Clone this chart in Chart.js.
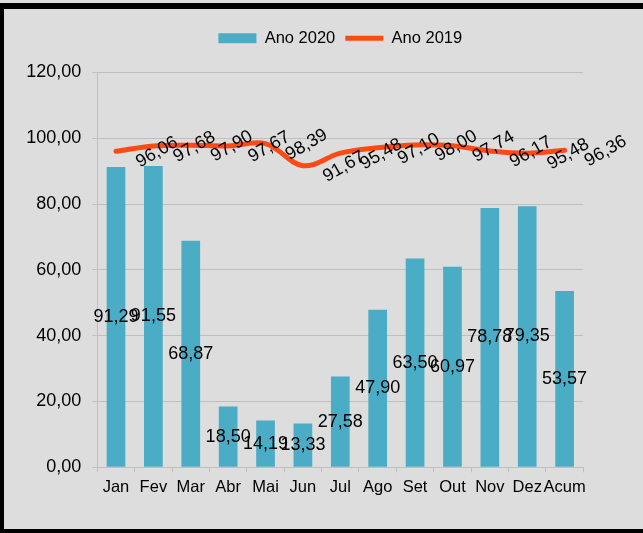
<!DOCTYPE html>
<html><head><meta charset="utf-8">
<script src="https://cdn.jsdelivr.net/npm/chart.js@4.4.1/dist/chart.umd.min.js"></script>
<style>
html,body{margin:0;padding:0;background:#dddddd;width:643px;height:533px;overflow:hidden;}
#frame{position:absolute;left:0;top:3px;width:700px;height:520px;border-top:6px solid #000;border-left:4px solid #000;border-bottom:4px solid #000;}
#c{position:absolute;left:0;top:0;}
</style></head><body>
<div id="frame"></div>
<canvas id="c" width="643" height="533"></canvas>
<script>
const categories = ['Jan','Fev','Mar','Abr','Mai','Jun','Jul','Ago','Set','Out','Nov','Dez','Acum'];
const ano2020 = [91.29, 91.55, 68.87, 18.50, 14.19, 13.33, 27.58, 47.90, 63.50, 60.97, 78.78, 79.35, 53.57];
const ano2019 = [96.06, 97.68, 97.90, 97.67, 98.39, 91.67, 95.48, 97.10, 98.00, 97.74, 96.17, 95.48, 96.36];
const yTicks = [0, 20, 40, 60, 80, 100, 120];

const FONT = '"Liberation Sans", Arial, sans-serif';
const fmt = v => v.toFixed(2).replace('.', ',');

const legendSpacer = {
  id: 'legendSpacer',
  beforeInit(chart) {
    const origFit = chart.legend.fit;
    chart.legend.fit = function () { origFit.call(this); this.height += 16; };
  }
};

const valueLabels = {
  id: 'valueLabels',
  afterDatasetsDraw(chart) {
    const ctx = chart.ctx;
    ctx.save();
    ctx.font = '18px ' + FONT;
    ctx.fillStyle = '#000';
    ctx.textAlign = 'center';
    ctx.textBaseline = 'middle';
    chart.getDatasetMeta(0).data.forEach((el, i) => {
      ctx.fillText(fmt(ano2020[i]), el.x, (el.y + el.base) / 2);
    });
    chart.getDatasetMeta(1).data.forEach((el, i) => {
      ctx.save();
      ctx.translate(el.x + 41, el.y + 1);
      ctx.rotate(-Math.PI / 6);
      ctx.fillText(fmt(ano2019[i]), 0, 0);
      ctx.restore();
    });
    ctx.restore();
  }
};

new Chart(document.getElementById('c'), {
  type: 'bar',
  data: {
    labels: categories,
    datasets: [
      {
        label: 'Ano 2020',
        data: ano2020,
        backgroundColor: '#4bacc6',
        borderWidth: 0,
        barPercentage: 0.5,
        categoryPercentage: 1.0
      },
      {
        type: 'line',
        label: 'Ano 2019',
        data: ano2019,
        borderColor: '#ff4a14',
        backgroundColor: '#ff4a14',
        borderWidth: 5,
        borderCapStyle: 'round',
        borderJoinStyle: 'round',
        tension: 0.35,
        pointRadius: 0,
        fill: false
      }
    ]
  },
  options: {
    responsive: false,
    animation: false,
    devicePixelRatio: 1,
    layout: { padding: { left: 0, right: 59.7, top: 20, bottom: 35.7 } },
    plugins: {
      tooltip: { enabled: false },
      legend: {
        position: 'top',
        fullSize: false,
        labels: {
          usePointStyle: true,
          pointStyleWidth: 38,
          boxHeight: 10,
          padding: 10,
          color: '#000',
          font: { family: FONT, size: 16.5 },
          generateLabels(chart) {
            const items = Chart.defaults.plugins.legend.labels.generateLabels(chart);
            items.forEach(it => { it.pointStyle = it.datasetIndex === 0 ? 'rect' : 'line'; });
            return items;
          }
        }
      }
    },
    scales: {
      x: {
        offset: true,
        grid: {
          offset: true,
          drawOnChartArea: true,
          color: (c) => c.index === categories.length ? '#bfbfbf' : 'rgba(0,0,0,0)',
          tickColor: '#bfbfbf',
          tickLength: 5
        },
        border: { display: true, color: '#bfbfbf', width: 1 },
        ticks: { color: '#000', font: { family: FONT, size: 16.5 }, padding: 5, maxRotation: 0, autoSkip: false },
        afterFit(scale) { scale.height = 30; }
      },
      y: {
        min: 0,
        max: 120,
        afterBuildTicks(scale) { scale.ticks = yTicks.map(v => ({ value: v })); },
        grid: { color: '#bfbfbf', tickColor: '#bfbfbf', tickLength: 5 },
        border: { display: true, color: '#bfbfbf' },
        ticks: { color: '#000', font: { family: FONT, size: 18 }, padding: 11, callback: v => fmt(v) },
        afterFit(scale) { scale.width = 97.3; }
      }
    }
  },
  plugins: [legendSpacer, valueLabels]
});
</script>
</body></html>
